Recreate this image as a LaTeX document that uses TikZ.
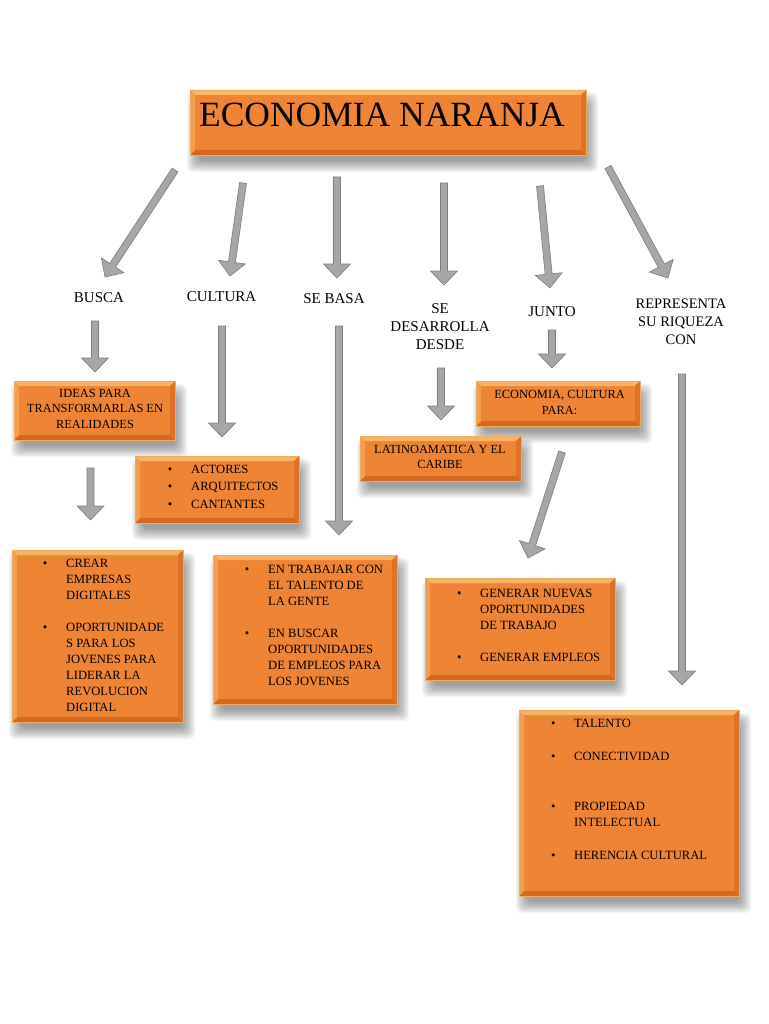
\documentclass[tikz,border=0pt]{standalone}
\usepackage{fontspec}
\setmainfont{Liberation Serif}
\usetikzlibrary{calc}
\pgfdeclarelayer{background}
\pgfsetlayers{background,main}
\definecolor{orMain}{RGB}{238,132,52}
\definecolor{bvTop}{RGB}{247,180,100}
\definecolor{bvLeft}{RGB}{243,158,78}
\definecolor{bvRight}{RGB}{222,114,38}
\definecolor{bvBot}{RGB}{212,104,30}
\definecolor{orEdge}{RGB}{240,172,92}
\definecolor{arFill}{RGB}{166,166,166}
\definecolor{arLine}{RGB}{125,125,125}
\newcommand\blockarr[2]{%
  \coordinate (tmpc) at ($(#2)!14pt!(#1)$);
  \filldraw[arrowshape] ($(#1)!3.5pt!90:(#2)$) -- ($(tmpc)!3.5pt!90:(#2)$) -- ($(tmpc)!13.5pt!90:(#2)$) -- (#2) -- ($(tmpc)!13.5pt!-90:(#2)$) -- ($(tmpc)!3.5pt!-90:(#2)$) -- ($(#1)!3.5pt!-90:(#2)$) -- cycle;}
\newcommand\bl{\makebox[0pt]{\textbullet}\hspace{21pt}}
\tikzset{
  arrowshape/.style={fill=arFill, draw=arLine, line width=0.6pt, line join=miter},
  softshadow/.style={fill=black, opacity=0.042, rounded corners=6pt},
  orangebox/.style={fill=orMain, draw=orEdge, line width=0.5pt, inner sep=0pt,
    path picture={
      \fill[bvTop] (path picture bounding box.north west) -- (path picture bounding box.north east) -- ([shift={(-5pt,-5pt)}]path picture bounding box.north east) -- ([shift={(5pt,-5pt)}]path picture bounding box.north west) -- cycle;
      \fill[bvBot] (path picture bounding box.south west) -- (path picture bounding box.south east) -- ([shift={(-5pt,5pt)}]path picture bounding box.south east) -- ([shift={(5pt,5pt)}]path picture bounding box.south west) -- cycle;
      \fill[bvLeft] (path picture bounding box.north west) -- (path picture bounding box.south west) -- ([shift={(5pt,5pt)}]path picture bounding box.south west) -- ([shift={(5pt,-5pt)}]path picture bounding box.north west) -- cycle;
      \fill[bvRight] (path picture bounding box.north east) -- (path picture bounding box.south east) -- ([shift={(-5pt,5pt)}]path picture bounding box.south east) -- ([shift={(-5pt,-5pt)}]path picture bounding box.north east) -- cycle;
    }},
  lbl/.style={inner sep=0pt, anchor=base, font=\fontsize{15}{18.3}\selectfont},
  btxt/.style={inner sep=0pt, anchor=base west, font=\fontsize{12.6}{16.1}\selectfont},
  ctxt/.style={inner sep=0pt, anchor=base, font=\fontsize{12.4}{15.6}\selectfont}
}
\begin{document}
\begin{tikzpicture}[x=1pt,y=-1pt]
\useasboundingbox (0,0) rectangle (768,1024);
\begin{pgfonlayer}{background}
\fill[white] (0,0) rectangle (768,1024);
\end{pgfonlayer}

% boxes
\node[orangebox, minimum width=396pt, minimum height=65pt] (title) at (388,122.5) {};
\node[orangebox, minimum width=161pt, minimum height=59pt] (ideas) at (94.5,410.5) {};
\node[orangebox, minimum width=164pt, minimum height=67pt] (actores) at (217,489.5) {};
\node[orangebox, minimum width=161pt, minimum height=45pt] (latino) at (440.5,458.5) {};
\node[orangebox, minimum width=164pt, minimum height=45pt] (economia) at (558,403.5) {};
\node[orangebox, minimum width=171pt, minimum height=172pt] (crear) at (97.5,636) {};
\node[orangebox, minimum width=184pt, minimum height=149pt] (trabajar) at (305,629.5) {};
\node[orangebox, minimum width=190pt, minimum height=102pt] (generar) at (520,629) {};
\node[orangebox, minimum width=220pt, minimum height=186pt] (talento) at (629,803) {};

% soft shadows
\begin{pgfonlayer}{background}
\foreach \n in {title,ideas,actores,latino,economia,crear,trabajar,generar,talento}{
  \foreach \i in {0,...,9}{
    \fill[softshadow] ([shift={({-3pt+\i*1.3pt},{-3pt-\i*1.3pt})}]\n.north west) rectangle ([shift={({12pt-\i*1.3pt},{-17pt+\i*1.3pt})}]\n.south east);
  }
}
\end{pgfonlayer}

% title text
\node[inner sep=0pt, anchor=base, font=\fontsize{35.5}{40}\selectfont] (titletxt) at (382,127) {ECONOMIA NARANJA};

% labels
\node[lbl] (busca) at (99,302.5) {BUSCA};
\node[lbl] (cultura) at (221.5,301) {CULTURA};
\node[lbl] (sebasa) at (334,303.5) {SE BASA};
\node[lbl] (desde) at (440,313) {\begin{tabular}[t]{@{}c@{}}SE\\DESARROLLA\\DESDE\end{tabular}};
\node[lbl] (junto) at (552,316.5) {JUNTO};
\node[lbl, font=\fontsize{14.5}{18}\selectfont] (representa) at (681,308) {\begin{tabular}[t]{@{}c@{}}REPRESENTA\\SU RIQUEZA\\CON\end{tabular}};

% box texts
\node[ctxt] (ideastxt) at (95,397) {\begin{tabular}[t]{@{}c@{}}IDEAS PARA\\TRANSFORMARLAS EN\\REALIDADES\end{tabular}};
\node[ctxt] (latinotxt) at (440,453) {\begin{tabular}[t]{@{}c@{}}LATINOAMATICA Y EL\\CARIBE\end{tabular}};
\node[ctxt, font=\fontsize{12.4}{16}\selectfont] (economiatxt) at (559.5,398) {\begin{tabular}[t]{@{}c@{}}ECONOMIA, CULTURA\\PARA:\end{tabular}};
\node[btxt, font=\fontsize{12.6}{17.5}\selectfont] (actorestxt) at (170,473) {\begin{tabular}[t]{@{}l@{}}\bl ACTORES\\\bl ARQUITECTOS\\\bl CANTANTES\end{tabular}};
\node[btxt] (creartxt) at (45,567) {\begin{tabular}[t]{@{}l@{}}\bl CREAR\\\hspace{21pt}EMPRESAS\\\hspace{21pt}DIGITALES\\ \\\bl OPORTUNIDADE\\\hspace{21pt}S PARA LOS\\\hspace{21pt}JOVENES PARA\\\hspace{21pt}LIDERAR LA\\\hspace{21pt}REVOLUCION\\\hspace{21pt}DIGITAL\end{tabular}};
\node[btxt] (trabajartxt) at (247,573) {\begin{tabular}[t]{@{}l@{}}\bl EN TRABAJAR CON\\\hspace{21pt}EL TALENTO DE\\\hspace{21pt}LA GENTE\\ \\\bl EN BUSCAR\\\hspace{21pt}OPORTUNIDADES\\\hspace{21pt}DE EMPLEOS PARA\\\hspace{21pt}LOS JOVENES\end{tabular}};
\node[btxt, font=\fontsize{12.6}{16}\selectfont] (generartxt) at (459,597) {\begin{tabular}[t]{@{}l@{}}\bl GENERAR NUEVAS\\\hspace{21pt}OPORTUNIDADES\\\hspace{21pt}DE TRABAJO\\ \\\bl GENERAR EMPLEOS\end{tabular}};
\node[btxt, font=\fontsize{12.6}{16.6}\selectfont] (talentotxt) at (553,727) {\begin{tabular}[t]{@{}l@{}}\bl TALENTO\\ \\\bl CONECTIVIDAD\\ \\ \\\bl PROPIEDAD\\\hspace{21pt}INTELECTUAL\\ \\\bl HERENCIA CULTURAL\end{tabular}};

% arrow coordinates
\coordinate (a1s) at (175,170); \coordinate (a1e) at (105,277);
\coordinate (a2s) at (243,183); \coordinate (a2e) at (230,276);
\coordinate (a3s) at (337,177); \coordinate (a3e) at (337,278);
\coordinate (a4s) at (444,183); \coordinate (a4e) at (444,285);
\coordinate (a5s) at (540,186); \coordinate (a5e) at (550,288);
\coordinate (a6s) at (608,167); \coordinate (a6e) at (668,278);
\coordinate (b1s) at (95,321); \coordinate (b1e) at (95,372);
\coordinate (b2s) at (222,326); \coordinate (b2e) at (222,437);
\coordinate (b3s) at (339,326); \coordinate (b3e) at (339,535);
\coordinate (b4s) at (441,368); \coordinate (b4e) at (441,420);
\coordinate (b5s) at (552,330); \coordinate (b5e) at (552,368);
\coordinate (b6s) at (682,374); \coordinate (b6e) at (682,685);
\coordinate (c1s) at (90.5,468); \coordinate (c1e) at (90.5,520);
\coordinate (c2s) at (562,452); \coordinate (c2e) at (528,558);

\blockarr{a1s}{a1e}
\blockarr{a2s}{a2e}
\blockarr{a3s}{a3e}
\blockarr{a4s}{a4e}
\blockarr{a5s}{a5e}
\blockarr{a6s}{a6e}
\blockarr{b1s}{b1e}
\blockarr{b2s}{b2e}
\blockarr{b3s}{b3e}
\blockarr{b4s}{b4e}
\blockarr{b5s}{b5e}
\blockarr{b6s}{b6e}
\blockarr{c1s}{c1e}
\blockarr{c2s}{c2e}
\end{tikzpicture}
\end{document}
